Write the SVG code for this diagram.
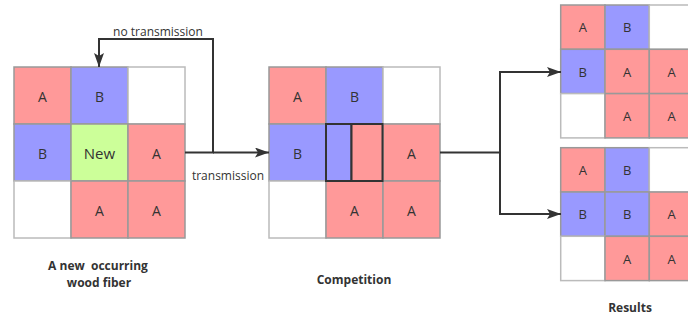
<svg xmlns="http://www.w3.org/2000/svg" width="688" height="320" viewBox="0 0 688 320">
<defs>
<marker id="arr" viewBox="0 0 14 10" refX="14" refY="5" markerWidth="14" markerHeight="10" markerUnits="userSpaceOnUse" orient="auto">
<path d="M0,0 L14,5 L0,10 L3,5 Z" fill="#333"/>
</marker>
</defs>
<style>
.a{fill:#FF9999;stroke:#999;stroke-width:1.5}
.b{fill:#9999FF;stroke:#999;stroke-width:1.5}
.w{fill:#FFFFFF;stroke:#bbb;stroke-width:1.5}
.g{fill:#CCFF99;stroke:#999;stroke-width:1.5}
.t{font-family:"Open Sans","Noto Sans",sans-serif;font-size:14px;fill:#333;text-anchor:middle;dominant-baseline:central}
.s{font-size:13px}
.lbl{font-family:"Open Sans","Noto Sans",sans-serif;font-size:12px;fill:#333;text-anchor:middle}
.cap{font-family:"Open Sans","Noto Sans",sans-serif;font-size:12px;font-weight:bold;fill:#333;text-anchor:middle}
.ln{fill:none;stroke:#333;stroke-width:2}
</style>
<g id="grid-new">
<rect class="a" x="14" y="67" width="57" height="57"/><text class="t" x="42.5" y="96">A</text>
<rect class="b" x="71" y="67" width="57" height="57"/><text class="t" x="99.5" y="96">B</text>
<rect class="w" x="128" y="67" width="57" height="57"/>
<rect class="b" x="14" y="124" width="57" height="57"/><text class="t" x="42.5" y="153">B</text>
<rect class="g" x="71" y="124" width="57" height="57"/><text class="t" x="99.5" y="153" style="font-size:15px">New</text>
<rect class="a" x="128" y="124" width="57" height="57"/><text class="t" x="156.5" y="153">A</text>
<rect class="w" x="14" y="181" width="57" height="57"/>
<rect class="a" x="71" y="181" width="57" height="57"/><text class="t" x="99.5" y="210">A</text>
<rect class="a" x="128" y="181" width="57" height="57"/><text class="t" x="156.5" y="210">A</text>
<text class="cap" x="98" y="270" xml:space="preserve">A new  occurring</text>
<text class="cap" x="99" y="287">wood fiber</text>
</g>
<g id="grid-competition">
<rect class="a" x="269" y="67" width="57" height="57"/><text class="t" x="297.5" y="96">A</text>
<rect class="b" x="326" y="67" width="57" height="57"/><text class="t" x="354.5" y="96">B</text>
<rect class="w" x="383" y="67" width="57" height="57"/>
<rect class="b" x="269" y="124" width="57" height="57"/><text class="t" x="297.5" y="153">B</text>
<rect class="a" x="383" y="124" width="57" height="57"/><text class="t" x="411.5" y="153">A</text>
<rect class="w" x="269" y="181" width="57" height="57"/>
<rect class="a" x="326" y="181" width="57" height="57"/><text class="t" x="354.5" y="210">A</text>
<rect class="a" x="383" y="181" width="57" height="57"/><text class="t" x="411.5" y="210">A</text>
<rect x="326" y="124" width="25.5" height="57" fill="#9999FF" stroke="#333" stroke-width="2"/>
<rect x="351.5" y="124" width="31" height="57" fill="#FF9999" stroke="#333" stroke-width="2"/>
<text class="cap" x="354" y="284">Competition</text>
</g>
<g id="grid-result-1">
<rect class="a" x="560.7" y="5" width="44.3" height="44.3"/><text class="t s" x="582.8" y="27.2">A</text>
<rect class="b" x="605" y="5" width="44.3" height="44.3"/><text class="t s" x="627.2" y="27.2">B</text>
<rect class="w" x="649.3" y="5" width="44.3" height="44.3"/>
<rect class="b" x="560.7" y="49.3" width="44.3" height="44.3"/><text class="t s" x="582.8" y="71.5">B</text>
<rect class="a" x="605" y="49.3" width="44.3" height="44.3"/><text class="t s" x="627.2" y="71.5">A</text>
<rect class="a" x="649.3" y="49.3" width="44.3" height="44.3"/><text class="t s" x="671.5" y="71.5">A</text>
<rect class="w" x="560.7" y="93.6" width="44.3" height="44.3"/>
<rect class="a" x="605" y="93.6" width="44.3" height="44.3"/><text class="t s" x="627.2" y="115.8">A</text>
<rect class="a" x="649.3" y="93.6" width="44.3" height="44.3"/><text class="t s" x="671.5" y="115.8">A</text>
</g>
<g id="grid-result-2">
<rect class="a" x="560.7" y="147.7" width="44.3" height="44.3"/><text class="t s" x="582.8" y="169.9">A</text>
<rect class="b" x="605" y="147.7" width="44.3" height="44.3"/><text class="t s" x="627.2" y="169.9">B</text>
<rect class="w" x="649.3" y="147.7" width="44.3" height="44.3"/>
<rect class="b" x="560.7" y="192" width="44.3" height="44.3"/><text class="t s" x="582.8" y="214.2">B</text>
<rect class="b" x="605" y="192" width="44.3" height="44.3"/><text class="t s" x="627.2" y="214.2">B</text>
<rect class="a" x="649.3" y="192" width="44.3" height="44.3"/><text class="t s" x="671.5" y="214.2">A</text>
<rect class="w" x="560.7" y="236.3" width="44.3" height="44.3"/>
<rect class="a" x="605" y="236.3" width="44.3" height="44.3"/><text class="t s" x="627.2" y="258.5">A</text>
<rect class="a" x="649.3" y="236.3" width="44.3" height="44.3"/><text class="t s" x="671.5" y="258.5">A</text>
<text class="cap" x="630" y="312">Results</text>
</g>
<g id="connectors">
<path class="ln" d="M185,152.5 H213 V39 H99 V67" marker-end="url(#arr)"/>
<path class="ln" d="M213,152.5 H269" marker-end="url(#arr)"/>
<path class="ln" d="M440,152.5 H500 V72 H561" marker-end="url(#arr)"/>
<path class="ln" d="M500,152.5 V214 H561" marker-end="url(#arr)"/>
<text class="lbl" x="158" y="36">no transmission</text>
<text class="lbl" x="228" y="180">transmission</text>
</g>
</svg>
